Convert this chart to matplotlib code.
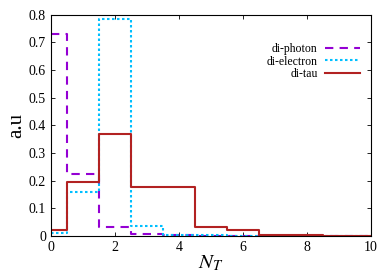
import numpy as np
import matplotlib.pyplot as plt

plt.rcParams['font.family'] = ['Liberation Serif', 'DejaVu Serif']
plt.rcParams['mathtext.fontset'] = 'stix'

nt = np.arange(0, 11)
diphoton = [0.73, 0.223, 0.034, 0.008, 0.002, 0.001, 0.0, 0.0, 0.0, 0.0, 0.0]
dielectron = [0.012, 0.158, 0.784, 0.036, 0.005, 0.003, 0.001, 0.0, 0.0, 0.0, 0.0]
ditau = [0.02, 0.194, 0.367, 0.176, 0.178, 0.034, 0.022, 0.003, 0.002, 0.001, 0.001]

fig = plt.figure(figsize=(3.92, 2.75), dpi=100)
ax = fig.add_axes([0.130, 0.142, 0.816, 0.805])

ax.step(nt, diphoton, where='mid', color='#9400d3', lw=1.5, ls=(0, (4, 3)), label='di-photon')
ax.step(nt, dielectron, where='mid', color='#00bfff', lw=1.5, ls=(0, (1.2, 1.2)), label='di-electron')
ax.step(nt, ditau, where='mid', color='#b22222', lw=1.5, label='di-tau')

ax.set_xlim(0, 10)
ax.set_ylim(0, 0.8)
ax.set_xticks([0, 2, 4, 6, 8, 10])
ax.set_yticks(np.arange(0, 0.81, 0.1))
ax.set_yticklabels(['0', '0.1', '0.2', '0.3', '0.4', '0.5', '0.6', '0.7', '0.8'])
ax.tick_params(direction='in', top=True, right=True, labelsize=10, length=3, width=0.6)
for s in ax.spines.values():
    s.set_linewidth(0.8)

ax.set_xlabel('$N_T$', fontsize=15, labelpad=0)
ax.set_ylabel('a.u', fontsize=15, labelpad=2)

ax.legend(loc='upper right', bbox_to_anchor=(1.0, 0.92), frameon=False, markerfirst=False,
          fontsize=8.5, handlelength=3.0, handletextpad=0.6, labelspacing=0.05)

fig.savefig('out.png', dpi=100)
